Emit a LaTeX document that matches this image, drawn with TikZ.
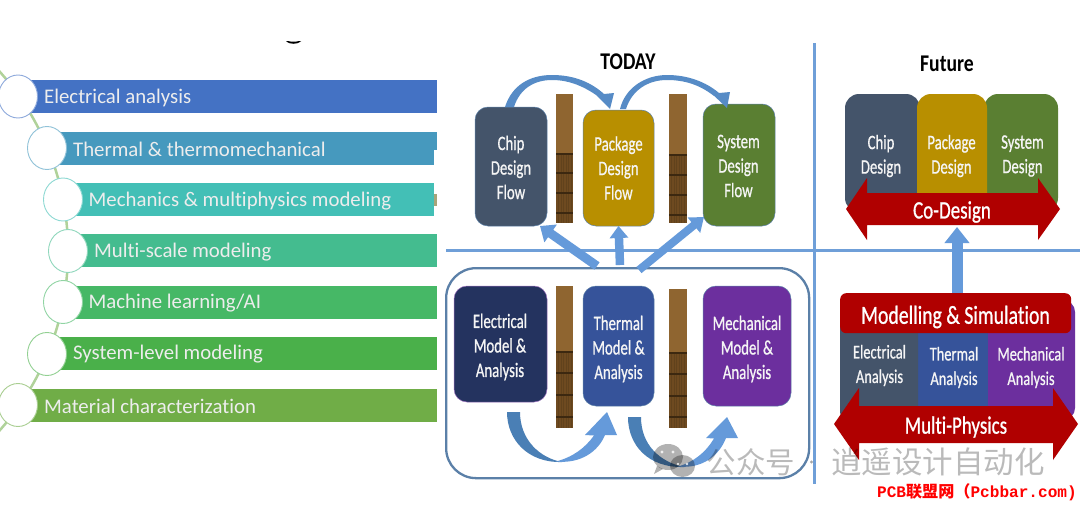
\documentclass[tikz,border=0pt]{standalone}
\usepackage{fontspec}
\setmainfont{Carlito}[Ligatures=NoCommon]
\newfontfamily\semi{Carlito}[FakeBold=0.9,Ligatures=NoCommon]
\newfontfamily\cjkf{Noto Sans CJK SC}
\newfontfamily\redmono{Liberation Mono}
\usetikzlibrary{shapes.geometric,arrows.meta}
\definecolor{cBarA}{HTML}{4472C4}\definecolor{cBarB}{HTML}{4699BE}\definecolor{cBarC}{HTML}{43BFB6}
\definecolor{cBarD}{HTML}{44BC8F}\definecolor{cBarE}{HTML}{46B866}\definecolor{cBarF}{HTML}{4AB04A}\definecolor{cBarG}{HTML}{70AD47}
\definecolor{cSlate}{HTML}{44546A}\definecolor{cGold}{HTML}{B88F00}\definecolor{cLeaf}{HTML}{5A7F32}
\definecolor{cNavy}{HTML}{24335F}\definecolor{cBlue}{HTML}{36539A}\definecolor{cPurple}{HTML}{6C2F9E}
\definecolor{cRed}{HTML}{B00000}\definecolor{cLine}{HTML}{6F9FD8}\definecolor{cArrow}{HTML}{659ADA}\definecolor{cArrowD}{HTML}{4A7FB5}
\definecolor{cFrame}{HTML}{5B80A8}\definecolor{cWood}{HTML}{8F6530}\definecolor{cWoodD}{HTML}{6E4A20}\definecolor{cWoodL}{HTML}{3C2810}
\tikzset{
 bar/.style={anchor=north west,minimum height=33pt,inner sep=0,outer sep=0},
 ring/.style={ellipse,draw,fill=white,line width=.9pt,minimum width=39pt,minimum height=43pt,inner sep=0},
 bartext/.style={anchor=west,text=white!93!black,font=\fontsize{20.8}{24}\selectfont,inner sep=0},
 flowbox/.style={rounded corners=13pt,anchor=north west,inner sep=0,outer sep=0,draw=cFrame,line width=.5pt},
 lab/.style={align=center,text=white!96!black,xscale=.72,transform shape,inner sep=0,font=\semi\fontsize{20.5}{24.5}\selectfont},
 smalllab/.style={align=center,text=white!96!black,xscale=.74,transform shape,inner sep=0,font=\semi\fontsize{19.5}{24.5}\selectfont},
 head/.style={xscale=.82,transform shape,inner sep=0,font=\bfseries\fontsize{24}{26}\selectfont,text=black},
 redlab/.style={text=white,xscale=.76,transform shape,inner sep=0,font=\semi\fontsize{26}{28}\selectfont},
 block/.style={draw=cArrow,line width=#1},
}
\newcommand{\pilr}[8]{% x0 x1 ytop ymid ybot l2 l3 l4
 \fill[cWood] (#1,#3) rectangle (#2,#4);
 \fill[cWoodD] (#1,#4) rectangle (#2,#5);
 \foreach \sx in {2.5,5,...,16}{\draw[cWoodL!25!cWoodD,line width=.4pt] ({#1+\sx},#4) -- ({#1+\sx},#5);}
 \foreach \sy in {#4,#6,#7,#8}{\draw[cWoodL,line width=1.1pt] (#1,\sy) -- (#2,\sy);}
}
\begin{document}
\begin{tikzpicture}[x=1pt,y=-1pt]
\useasboundingbox (0,0) rectangle (1080,506);
\fill[white] (0,0) rectangle (1080,506);
% ---------- left list
\begin{scope}
\clip (0,0) rectangle (440,506);
\draw[draw=cBarG!55!white,line width=2.5pt] (-201.6,251) circle (269.6pt);
\end{scope}
\fill[black] (286,41.5) .. controls (290,44.5) and (297,44.5) .. (301,41.5) -- (299,41) .. controls (296,42) and (291,42) .. (288,41) -- cycle;
\node[bar,fill=cBarA,minimum width=419pt] (bA) at (18,80) {};
\node[bar,fill=cBarB,minimum width=390pt] (bB) at (47,131.5) {};
\node[bar,fill=cBarC,minimum width=371pt] (bC) at (63,182.7) {};
\node[bar,fill=cBarD,minimum width=369pt] (bD) at (68,234) {};
\node[bar,fill=cBarE,minimum width=374pt] (bE) at (63,285.7) {};
\node[bar,fill=cBarF,minimum width=390pt] (bF) at (47,337) {};
\node[bar,fill=cBarG,minimum width=419pt] (bG) at (18,388.5) {};
\fill[white] (434,150) rectangle (437.5,165);
\fill[olive!70!black,opacity=.6] (434,194) rectangle (437,206);
\node[ring,draw=cBarA!60!white] (rA) at (18,96.5) {};
\node[ring,draw=cBarB!60!white] (rB) at (47,148) {};
\node[ring,draw=cBarC!60!white] (rC) at (63,199.5) {};
\node[ring,draw=cBarD!60!white] (rD) at (68,251) {};
\node[ring,draw=cBarE!60!white] (rE) at (63,302) {};
\node[ring,draw=cBarF!60!white] (rF) at (47,354) {};
\node[ring,draw=cBarG!60!white] (rG) at (18,405) {};
\node[bartext] (tA) at (44,97.5) {Electrical analysis};
\node[bartext] (tB) at (73,149) {Thermal \& thermomechanical};
\node[bartext] (tC) at (88.5,201) {Mechanics \& multiphysics modeling};
\node[bartext] (tD) at (94,252) {Multi-scale modeling};
\node[bartext] (tE) at (88.5,303) {Machine learning/AI};
\node[bartext] (tF) at (73,354.5) {System-level modeling};
\node[bartext] (tG) at (44,406) {Material characterization};
% ---------- grid lines
\draw[cLine,line width=3pt] (446,250) -- (1080,250);
\draw[cLine,line width=3pt] (814.5,43) -- (814.5,484);
% ---------- TODAY
\node[head] (today) at (628,62) {TODAY};
\pilr{556}{573}{94}{154}{223}{173}{193}{213}
\pilr{669}{687}{94}{155}{223}{175}{195}{215}
\node[flowbox,fill=cSlate,minimum width=72pt,minimum height=119pt] (chip) at (475,107) {};
\node[flowbox,fill=cGold,minimum width=71pt,minimum height=116pt] (pack) at (583,110) {};
\node[flowbox,fill=cLeaf,minimum width=72pt,minimum height=122pt] (sys) at (703,104) {};
\node[lab] (lchip) at (511,167.5) {Chip\\Design\\Flow};
\node[lab] (lpack) at (618.5,168) {Package\\Design\\Flow};
\node[lab] (lsys) at (738.5,166) {System\\Design\\Flow};
% curved top arrows
\fill[cArrowD!55!cArrow] (505,107) .. controls (512,85) and (530,75) .. (552,75) .. controls (575,75) and (592,83) .. (604,94) -- (614,93) -- (610,109) -- (592,91) -- (599,97) .. controls (585,87) and (570,80) .. (552,80) .. controls (535,80) and (520,88) .. (514,107) -- cycle;
\fill[cArrowD!55!cArrow] (620,109) .. controls (625,88) and (645,75) .. (667,75) .. controls (688,75) and (706,82) .. (719,93) -- (730,92) -- (727,108) -- (709,91) -- (714,96) .. controls (700,85) and (685,80) .. (667,80) .. controls (648,80) and (632,90) .. (626,109) -- cycle;
% ---------- lower group
\node[draw=cFrame,line width=2.3pt,rounded corners=30pt,anchor=north west,minimum width=363pt,minimum height=210pt,inner sep=0] (group) at (445,267) {};
\pilr{556}{573}{286}{352}{428}{373}{395}{417}
\pilr{669}{687}{289}{353}{428}{374}{396}{417}
\node[flowbox,fill=cNavy,draw=cPurple!70!white,minimum width=93pt,minimum height=116pt] (elec) at (454,286) {};
\node[flowbox,fill=cBlue,minimum width=71pt,minimum height=120pt] (ther) at (583,286) {};
\node[flowbox,fill=cPurple,minimum width=88pt,minimum height=120pt] (mech) at (703,286) {};
\node[lab] (lelec) at (500,347) {Electrical\\Model \&\\Analysis};
\node[lab] (lther) at (618.5,349) {Thermal\\Model \&\\Analysis};
\node[lab] (lmech) at (747,349) {Mechanical\\Model \&\\Analysis};
% straight block arrows
\coordinate (upL) at (597,266);
\coordinate (upM) at (620,265);
\coordinate (upR) at (639,270);
\coordinate (tipL) at (540,226);
\coordinate (tipR) at (704,217);
\draw[block=9pt,-{Triangle[length=13pt,width=21pt,fill=cArrow]}] (upL) -- (tipL);
\draw[block=8.5pt,-{Triangle[length=12pt,width=18pt,fill=cArrow]}] (upM) -- (pack.south);
\draw[block=8pt,-{Triangle[length=13pt,width=19pt,fill=cArrow]}] (upR) -- (tipR);
% curved lower arrows
\fill[cArrowD] (507,412) .. controls (507,440) and (528,463) .. (562,462) .. controls (540,458) and (520,440) .. (520,412) -- cycle;
\fill[cArrow] (556,461.5) .. controls (580,464) and (598,452) .. (605,435) -- (617,435) -- (607,412) -- (585,435) -- (594,435.5) .. controls (585,448) and (573,457) .. (556,461.5) -- cycle;
\fill[cArrowD] (628,417) .. controls (628,445) and (648,468) .. (684,467) .. controls (660,462) and (641,445) .. (641,417) -- cycle;
\fill[cArrow] (678,466.5) .. controls (702,469) and (719,456) .. (726,438) -- (738,438) -- (727,417) -- (706,438) -- (714,438.5) .. controls (706,452) and (694,462) .. (678,466.5) -- cycle;
% ---------- Future
\node[head] (future) at (947,64) {Future};
\node[flowbox,draw=none,fill=cSlate,minimum width=75pt,minimum height=118pt,rounded corners=14pt] (fchip) at (845,94) {};
\node[flowbox,draw=none,fill=cLeaf,minimum width=74pt,minimum height=118pt,rounded corners=14pt] (fsys) at (984,94) {};
\node[flowbox,draw=none,fill=cGold,minimum width=70pt,minimum height=118pt,rounded corners=14pt] (fpack) at (917,94) {};
\node[lab] (lfchip) at (881,156) {Chip\\Design};
\node[lab] (lfpack) at (951.5,156) {Package\\Design};
\node[lab] (lfsys) at (1022.5,156) {System\\Design};
\fill[cRed] (846,209) -- (867,178) -- (867,193) -- (1038,193) -- (1038,178) -- (1060,209) -- (1038,240) -- (1038,225) -- (867,225) -- (867,240) -- cycle;
\node[redlab,font=\semi\fontsize{25}{28}\selectfont] (codesign) at (952,212) {Co-Design};
% ---------- Modelling
\fill[cPurple] (988,300) [rounded corners=12pt] -- (1075,300) -- (1075,420) [sharp corners] -- (988,420) -- cycle;
\fill[cBlue] (918,300) rectangle (988,420);
\fill[cSlate] (918,300) [rounded corners=8pt] -- (840,300) -- (840,420) [sharp corners] -- (918,420) -- cycle;
\node[smalllab] (lmA) at (879.5,365.5) {Electrical\\Analysis};
\node[smalllab] (lmB) at (954,367.5) {Thermal\\Analysis};
\node[smalllab] (lmC) at (1031,367.5) {Mechanical\\Analysis};
\node[fill=cRed,rounded corners=6pt,anchor=north west,minimum width=231pt,minimum height=40pt,inner sep=0] (mods) at (840,293) {};
\node[redlab] (lmods) at (955.5,317) {Modelling \& Simulation};
\coordinate (codeIn) at (957,227);
\coordinate (modsOut) at (957,293);
\draw[block=11pt,-{Triangle[length=16pt,width=24pt,fill=cArrow]}] (modsOut) -- (codeIn);
\fill[cRed] (834,424) -- (859,388) -- (859,406) -- (1053,406) -- (1053,388) -- (1078,424) -- (1053,460) -- (1053,443) -- (859,443) -- (859,460) -- cycle;
\node[redlab,font=\semi\fontsize{25}{28}\selectfont] (lmulti) at (956,427) {Multi-Physics};
% ---------- watermark
\begin{scope}[opacity=.3]
\fill[black] (668,457) ellipse (15pt and 13pt);
\fill[black] (657,466) -- (654,474) -- (663,469) -- cycle;
\fill[black] (682.5,466) ellipse (12.5pt and 11pt);
\end{scope}
\fill[white,opacity=.8] (662,452) circle (1.7pt) (673,452) circle (1.7pt) (678,464) circle (1.4pt) (687,464) circle (1.4pt);
\node[inner sep=0,text=black,opacity=.27,font=\cjkf\fontsize{29.5}{32}\selectfont] (wmA) at (751,462) {公众号};
\node[inner sep=0,text=black,opacity=.27,font=\cjkf\fontsize{30.5}{32}\selectfont] (wmB) at (938,462) {逍遥设计自动化};
\fill[black,opacity=.35] (811.5,462) circle (1.6pt);
\node[anchor=east,inner sep=0,text=red,font=\bfseries\fontsize{16.1}{18}\selectfont] (pcb) at (1077,492) {\redmono PCB\cjkf 联盟网（\redmono Pcbbar.com)};
\end{tikzpicture}
\end{document}
